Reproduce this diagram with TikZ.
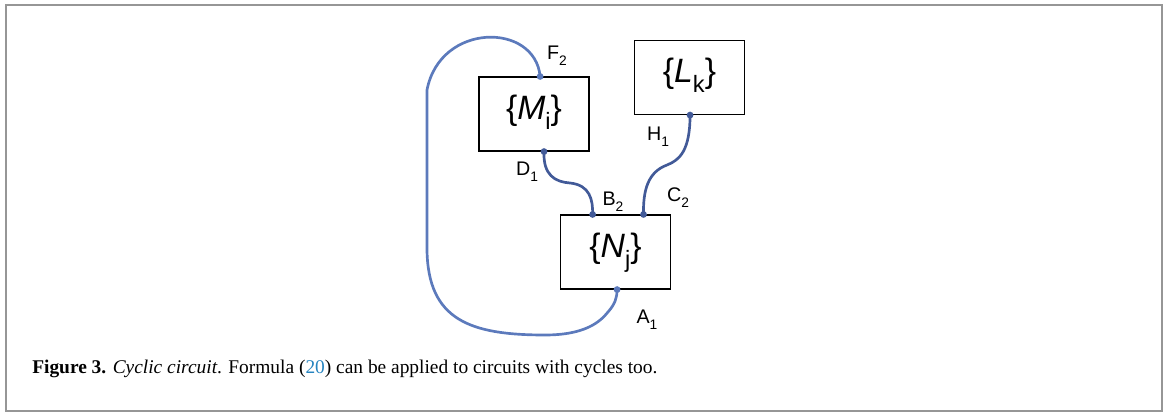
\documentclass[tikz,border=0pt]{standalone}
\usepackage{fontspec}
\usepackage{graphicx}
\usepackage{tikz}
\usetikzlibrary{positioning,calc}
\usepackage{xcolor}
\setmainfont{Liberation Serif}
\newfontfamily\labelfont{Liberation Sans}
\definecolor{loopblue}{RGB}{92,122,188}
\definecolor{wireblue}{RGB}{66,90,152}
\definecolor{framegray}{RGB}{150,150,150}
\definecolor{refblue}{RGB}{38,132,192}
\newcommand{\lowidx}[1]{\raisebox{-0.3em}{\scalebox{0.7}{#1}}}

\begin{document}
\begin{tikzpicture}[x=0.025cm,y=-0.025cm,
  block/.style={draw,line width=0.8pt,minimum width=110*0.025cm,minimum height=74*0.025cm,inner sep=0pt,text height=1.0em,text depth=0.25em,font=\labelfont\fontsize{24}{26}\selectfont},
  wire/.style={line width=1.9pt,wireblue},
  loopwire/.style={line width=1.9pt,loopblue},
  port/.style={font=\labelfont\fontsize{14}{16}\selectfont}]
\useasboundingbox (0,0) rectangle (1168,412);
\draw[framegray,line width=1.4pt] (6,5) rectangle (1162,411);
% boxes
\node[block] (M) at (534,114) {\{\textit{M}\lowidx{i}\}};
\node[block] (L) at (689.5,77.5) {\{\textit{L}\lowidx{k}\}};
\node[block] (N) at (615.5,252) {\{\textit{N}\lowidx{j}\}};
% ports
\coordinate (F2) at ($(M.north west)!0.555!(M.north east)$);
\coordinate (D1) at ($(M.south west)!0.59!(M.south east)$);
\coordinate (H1) at ($(L.south west)!0.505!(L.south east)$);
\coordinate (B2) at ($(N.north west)!0.294!(N.north east)$);
\coordinate (C2) at ($(N.north west)!0.752!(N.north east)$);
\coordinate (A1) at ($(N.south west)!0.514!(N.south east)$);
% wires
\draw[wire] (D1) .. controls (543,175) and (555,182) .. (570,183)
  .. controls (590,185) and (593,200) .. (B2);
\draw[wire] (H1) .. controls (690,150) and (680,160) .. (667,165)
  .. controls (648,172) and (643,190) .. (C2);
\draw[loopwire] (F2) .. controls (535,22) and (440,22) .. (427,90) -- (427,250)
  .. controls (428,320) and (470,335) .. (545,335)
  .. controls (585,335) and (600,322) .. (608,312)
  .. controls (615,304) and (617,298) .. (A1);
\foreach \p in {D1,B2,H1,C2} \fill[wireblue] (\p) circle (3.4);
\foreach \p in {F2,A1} \fill[loopblue] (\p) circle (3.4);
% labels
\node[port] at (557,56) {F\lowidx{2}};
\node[port] at (527,172) {D\lowidx{1}};
\node[port] at (613,202) {B\lowidx{2}};
\node[port] at (658,137) {H\lowidx{1}};
\node[port] at (678,198) {C\lowidx{2}};
\node[port] at (647,320) {A\lowidx{1}};
% caption
\node[anchor=base west,inner sep=0pt,font=\fontsize{13.8}{16}\selectfont] (cap) at (32,373)
  {\textbf{Figure 3.} \textit{Cyclic circuit}. Formula (\textcolor{refblue}{20}) can be applied to circuits with cycles too.};
\end{tikzpicture}
\end{document}
